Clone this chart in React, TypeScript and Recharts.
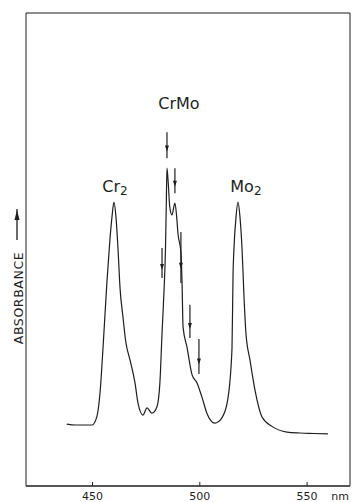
import React from 'react';
import { LineChart, Line, XAxis, YAxis, ReferenceArea, ReferenceLine, ReferenceDot } from 'recharts';

// spectrum trace, wavelength in nm and absorbance in arbitrary units
const wavelength = [
  438, 442, 446, 449.8, 452, 453.5, 455, 456.7, 458.1, 459.1, 460, 460.9, 461.9, 462.8, 464.2, 465.5,
  467.5, 469.8, 471.2, 473.5, 475.4, 477.7, 480, 481.4, 482.4, 483.3, 484, 484.4, 484.7, 485.3, 486, 487,
  488.4, 489.2, 489.8, 491.2, 491.7, 492.2, 494, 496.4, 498.7, 501, 503.3, 507, 510.3, 513, 515, 515.5,
  515.9, 516.9, 517.8, 518.7, 519.7, 520.6, 521.5, 523.4, 525.7, 529, 534, 540.6, 546.7, 553, 559.7,
];
const absorbance = [
  13.1, 12.9, 12.9, 12.9, 14.6, 19.7, 30, 43, 52, 57, 60, 57, 50, 42, 35.7, 30.5,
  26.6, 21.8, 17.5, 15, 16.5, 15.4, 16.7, 21.8, 32.3, 41, 50, 60, 67.2, 64, 59, 57.3,
  59.8, 57, 53.5, 49.3, 43.5, 33.6, 29.4, 23.5, 21.8, 18.8, 15.4, 13.3, 14.4, 18.2, 29, 45,
  50, 57, 60, 57, 50, 40, 32.3, 26.6, 20.3, 14.6, 12.5, 11.4, 11.2, 11.1, 11,
];

const xTicks = [450, 500, 550];

// down arrows marking the CrMo bands
const arrowX = [484.7, 488.4, 482.4, 491.2, 495.4, 499.6];
const arrowTop = [74.8, 67.2, 50.3, 53.7, 38.3, 31.1];
const arrowBottom = [69.3, 61.9, 44, 42.9, 31.3, 23.7];

const peakNames = ['Cr', 'CrMo', 'Mo'];
const peakSub = ['2', '', '2'];
const peakX = [460.5, 490.3, 521.5];
const peakY = [63.4, 81, 63.4];

const data = wavelength.map((w, i) => ({ w, a: absorbance[i] }));

const ink = '#1e1e1e';
const font = 'DejaVu Sans';

const Arrow = (p: any) => {
  const { x1, y1, x2, y2 } = p;
  const hy = y1 + (y2 - y1) * 0.7;
  return (
    <g>
      <line x1={x1} y1={y1} x2={x2} y2={y2} stroke={ink} strokeWidth={1.2} />
      <path d={`M${x1 - 2},${hy - 5} L${x1 + 2},${hy - 5} L${x1},${hy + 1} Z`} fill={ink} />
    </g>
  );
};

const XTick = (p: any) => {
  const { x, y, payload } = p;
  return (
    <g>
      <line x1={x} y1={y} x2={x} y2={y - 4} stroke={ink} />
      <text x={x} y={y + 14} textAnchor="middle" fontSize={11} fontFamily={font} fill={ink}>
        {payload.value}
      </text>
    </g>
  );
};

// axis unit and the rotated y title, placed from the x axis box
const AxisTitles = (p: any) => {
  const vb = p.viewBox;
  const cx = vb.x - 8;
  return (
    <g>
      <text x={vb.x + vb.width - 10} y={vb.y + 14} textAnchor="middle" fontSize={11} fontFamily={font} fill={ink}>
        nm
      </text>
      <text
        x={cx}
        y={298}
        transform={`rotate(-90 ${cx} 298)`}
        textAnchor="middle"
        dominantBaseline="central"
        fontSize={12.5}
        letterSpacing={0.6}
        fontFamily={font}
        fill={ink}
      >
        ABSORBANCE
      </text>
      <line x1={cx - 1} y1={240} x2={cx - 1} y2={209} stroke={ink} strokeWidth={1.3} />
      <path d={`M${cx - 3.5},${220} L${cx + 1.5},${220} L${cx - 1},${210} Z`} fill={ink} />
    </g>
  );
};

export default function App() {
  return (
    <div style={{ position: 'absolute', left: 0, top: 0, background: '#fff' }}>
      <LineChart width={354} height={502} data={data} margin={{ top: 13, right: 4, bottom: 0, left: 26 }}>
        <XAxis
          dataKey="w"
          type="number"
          domain={[419, 570]}
          ticks={xTicks}
          allowDataOverflow
          height={16}
          tickSize={0}
          tickMargin={0}
          tick={<XTick />}
          axisLine={{ stroke: ink }}
          label={{ content: (p: any) => <AxisTitles {...p} /> }}
        />
        <YAxis domain={[0, 100]} hide />
        <ReferenceArea x1={419} x2={570} y1={0} y2={100} fill="none" stroke={ink} strokeWidth={1} />
        <Line type="monotone" dataKey="a" stroke={ink} strokeWidth={1.2} dot={false} isAnimationActive={false} />
        {arrowX.map((x, i) => (
          <ReferenceLine
            key={'ar' + i}
            segment={[{ x, y: arrowTop[i] }, { x, y: arrowBottom[i] }]}
            shape={<Arrow />}
          />
        ))}
        {peakNames.map((n, i) => (
          <ReferenceDot
            key={'pk' + i}
            x={peakX[i]}
            y={peakY[i]}
            r={1}
            fill="none"
            stroke="none"
            label={{
              content: (p: any) => {
                const vb = p.viewBox;
                const cx = vb.x + vb.width / 2;
                const cy = vb.y + vb.height / 2;
                return (
                  <text x={cx} y={cy + 6} textAnchor="middle" fontSize={16} fontFamily={font} fill={ink}>
                    {n}
                    {peakSub[i] ? (
                      <tspan fontSize={12} dy={3}>
                        {peakSub[i]}
                      </tspan>
                    ) : null}
                  </text>
                );
              },
            }}
          />
        ))}
      </LineChart>
    </div>
  );
}
